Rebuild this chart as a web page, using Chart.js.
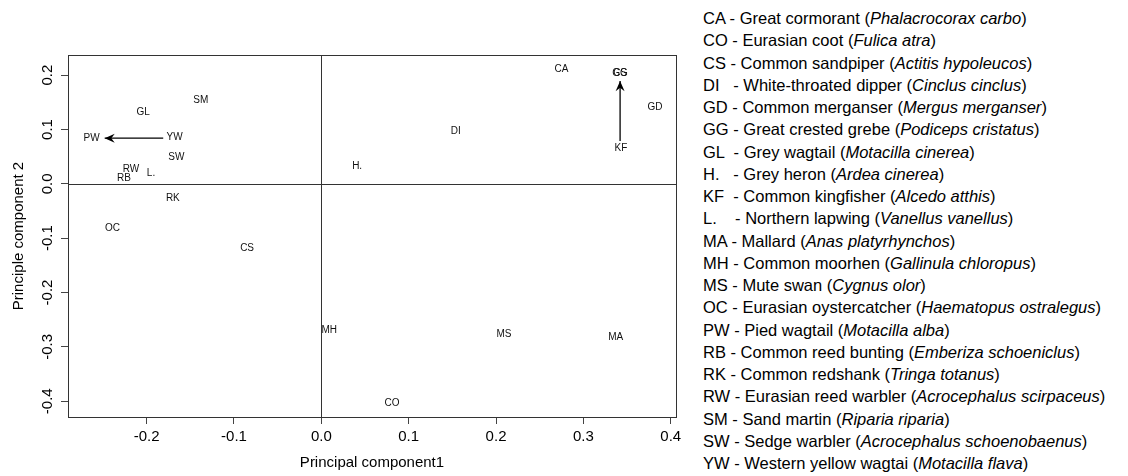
<!DOCTYPE html>
<html>
<head>
<meta charset="utf-8">
<script src="https://cdn.jsdelivr.net/npm/chart.js@4.4.1/dist/chart.umd.min.js"></script>
<style>
  body { margin: 0; background: #fff; }
  #wrap { position: relative; width: 1128px; height: 476px; }
  #chartBox { position: absolute; left: 0; top: 0; width: 700px; height: 476px; }
  #speciesKey { position: absolute; left: 703px; top: 7px; font-family: "Liberation Sans", Arial, sans-serif;
    font-size: 16.5px; line-height: 22.25px; color: #000; white-space: pre; }
</style>
</head>
<body>
<div id="wrap">
  <div id="chartBox"><canvas id="pcaChart"></canvas></div>
  <div id="speciesKey"></div>
</div>
<script>
// species codes and their PCA scores
const birdCodes = ['CA', 'GG', 'CS', 'GD', 'KF', 'DI', 'H.', 'SM', 'GL', 'YW', 'PW', 'SW', 'RW', 'RB', 'L.', 'RK', 'OC', 'CS', 'MH', 'MS', 'MA', 'CO'];
const pc1 = [0.275, 0.342, 0.342, 0.382, 0.343, 0.154, 0.041, -0.138, -0.204, -0.168, -0.263, -0.166, -0.218, -0.226, -0.195, -0.170, -0.239, -0.085, 0.009, 0.209, 0.337, 0.081];
const pc2 = [0.211, 0.203, 0.203, 0.140, 0.065, 0.096, 0.032, 0.154, 0.132, 0.085, 0.083, 0.048, 0.027, 0.011, 0.019, -0.027, -0.082, -0.119, -0.270, -0.277, -0.282, -0.404];

// arrows (start -> end)
const arrowYW = [{x: -0.181, y: 0.084}, {x: -0.248, y: 0.084}];
const arrowKF = [{x: 0.342, y: 0.079}, {x: 0.342, y: 0.189}];

const xTicks = [-0.2, -0.1, 0.0, 0.1, 0.2, 0.3, 0.4];
const yTicks = [0.2, 0.1, 0.0, -0.1, -0.2, -0.3, -0.4];

// key on the right
const keyCodes = ['CA', 'CO', 'CS', 'DI  ', 'GD', 'GG', 'GL ', 'H.  ', 'KF ', 'L.   ', 'MA', 'MH', 'MS', 'OC', 'PW', 'RB', 'RK', 'RW', 'SM', 'SW', 'YW'];
const keyCommon = ['Great cormorant', 'Eurasian coot', 'Common sandpiper', 'White-throated dipper', 'Common merganser',
  'Great crested grebe', 'Grey wagtail', 'Grey heron', 'Common kingfisher', 'Northern lapwing', 'Mallard',
  'Common moorhen', 'Mute swan', 'Eurasian oystercatcher', 'Pied wagtail', 'Common reed bunting', 'Common redshank',
  'Eurasian reed warbler', 'Sand martin', 'Sedge warbler', 'Western yellow wagtai'];
const keyLatin = ['Phalacrocorax carbo', 'Fulica atra', 'Actitis hypoleucos', 'Cinclus cinclus', 'Mergus merganser',
  'Podiceps cristatus', 'Motacilla cinerea', 'Ardea cinerea', 'Alcedo atthis', 'Vanellus vanellus', 'Anas platyrhynchos',
  'Gallinula chloropus', 'Cygnus olor', 'Haematopus ostralegus', 'Motacilla alba', 'Emberiza schoeniclus', 'Tringa totanus',
  'Acrocephalus scirpaceus', 'Riparia riparia', 'Acrocephalus schoenobaenus', 'Motacilla flava'];

const keyDiv = document.getElementById('speciesKey');
keyDiv.innerHTML = keyCodes.map((c, i) => `${c} - ${keyCommon[i]} (<i>${keyLatin[i]}</i>)`).join('\n');

const FONT = '"Liberation Sans", Arial, sans-serif';

// box, zero lines, labels, arrow heads and y axis text
const rPlotPlugin = {
  id: 'rPlot',
  beforeDatasetsDraw(chart) {
    const {ctx, chartArea: a, scales: {x, y}} = chart;
    ctx.save();
    ctx.strokeStyle = '#333';
    ctx.lineWidth = 1;
    const x0 = Math.round(x.getPixelForValue(0)) + 0.5;
    const y0 = Math.round(y.getPixelForValue(0)) + 0.5;
    ctx.beginPath();
    ctx.moveTo(x0, a.top); ctx.lineTo(x0, a.bottom);
    ctx.moveTo(a.left, y0); ctx.lineTo(a.right, y0);
    ctx.stroke();
    ctx.strokeRect(Math.round(a.left) + 0.5, Math.round(a.top) + 0.5, Math.round(a.width), Math.round(a.height));
    ctx.restore();
  },
  afterDatasetsDraw(chart) {
    const {ctx, scales: {x, y}} = chart;
    ctx.save();
    // point labels
    const meta = chart.getDatasetMeta(0);
    ctx.font = '10px ' + FONT;
    ctx.fillStyle = '#111';
    ctx.textAlign = 'center';
    ctx.textBaseline = 'middle';
    meta.data.forEach((pt, i) => ctx.fillText(birdCodes[i], pt.x, pt.y));

    // arrow heads
    [1, 2].forEach(di => {
      const pts = chart.getDatasetMeta(di).data;
      const p1 = pts[0], p2 = pts[1];
      const ang = Math.atan2(p2.y - p1.y, p2.x - p1.x);
      const len = 11, half = 0.42;
      ctx.beginPath();
      ctx.moveTo(p2.x, p2.y);
      ctx.lineTo(p2.x - len * Math.cos(ang - half), p2.y - len * Math.sin(ang - half));
      ctx.lineTo(p2.x - len * 0.6 * Math.cos(ang), p2.y - len * 0.6 * Math.sin(ang));
      ctx.lineTo(p2.x - len * Math.cos(ang + half), p2.y - len * Math.sin(ang + half));
      ctx.closePath();
      ctx.fillStyle = '#000';
      ctx.fill();
    });

    // y tick labels, rotated like R
    ctx.font = '15px ' + FONT;
    ctx.fillStyle = '#000';
    yTicks.forEach(v => {
      ctx.save();
      ctx.translate(48, y.getPixelForValue(v));
      ctx.rotate(-Math.PI / 2);
      ctx.fillText(v.toFixed(1), 0, 0);
      ctx.restore();
    });
    ctx.save();
    ctx.translate(19, (chart.chartArea.top + chart.chartArea.bottom) / 2);
    ctx.rotate(-Math.PI / 2);
    ctx.fillText('Principle component 2', 0, 0);
    ctx.restore();
    ctx.restore();
  }
};

const arrowStyle = {
  type: 'line', showLine: true, pointRadius: 0, borderColor: '#000', borderWidth: 1.3, fill: false
};

new Chart(document.getElementById('pcaChart'), {
  type: 'scatter',
  data: {
    datasets: [
      {data: birdCodes.map((c, i) => ({x: pc1[i], y: pc2[i]})), pointRadius: 0, pointHoverRadius: 0},
      Object.assign({data: arrowYW}, arrowStyle),
      Object.assign({data: arrowKF}, arrowStyle)
    ]
  },
  options: {
    responsive: true,
    maintainAspectRatio: false,
    animation: false,
    layout: {padding: {top: 55, right: 24, left: 0, bottom: 0}},
    plugins: {legend: {display: false}, tooltip: {enabled: false}},
    scales: {
      x: {
        type: 'linear', min: -0.290, max: 0.406,
        afterBuildTicks: s => { s.ticks = xTicks.map(v => ({value: v})); },
        afterFit: s => { s.height = 59; },
        border: {display: false},
        grid: {drawOnChartArea: false, drawTicks: true, tickLength: 7, color: '#444'},
        ticks: {color: '#000', font: {family: FONT, size: 15}, padding: 4, maxRotation: 0,
          callback: v => v.toFixed(1)},
        title: {display: true, text: 'Principal component1', color: '#000',
          font: {family: FONT, size: 15}, padding: {top: 0, bottom: 4}}
      },
      y: {
        type: 'linear', min: -0.429, max: 0.237,
        afterBuildTicks: s => { s.ticks = yTicks.map(v => ({value: v})); },
        afterFit: s => { s.width = 68; },
        border: {display: false},
        grid: {drawOnChartArea: false, drawTicks: true, tickLength: 7, color: '#444'},
        ticks: {display: false}
      }
    }
  },
  plugins: [rPlotPlugin]
});
</script>
</body>
</html>
